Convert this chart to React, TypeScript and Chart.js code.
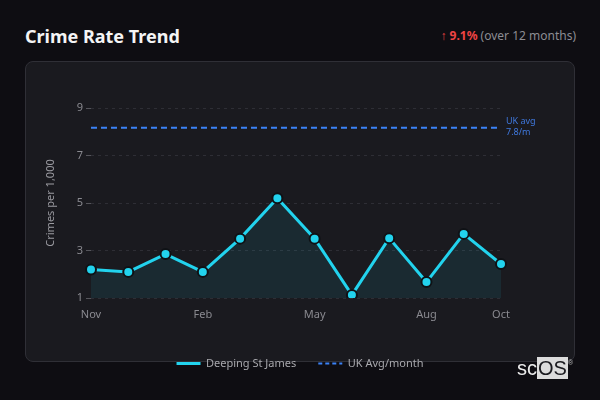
import { useEffect, useRef } from 'react'
import Chart from 'chart.js/auto'

const months = ['Nov', 'Dec', 'Jan', 'Feb', 'Mar', 'Apr', 'May', 'Jun', 'Jul', 'Aug', 'Sep', 'Oct']
const localRates = [2.2, 2.1, 2.85, 2.1, 3.5, 5.2, 3.5, 1.13, 3.52, 1.67, 3.7, 2.43]
const ukAvgLine = [8.17, 8.17, 8.17, 8.17, 8.17, 8.17, 8.17, 8.17, 8.17, 8.17, 8.17, 8.17]
const yTicks = [1, 3, 5, 7, 9]
const shownMonths = ['Nov', 'Feb', 'May', 'Aug', 'Oct']
const ukAvgText = ['UK avg', '7.8/m']

const CYAN = '#22d3ee'
const BLUE = '#3b82f6'
const CARD = '#1a1a1f'

export default function App() {
  const canvasRef = useRef<HTMLCanvasElement>(null)

  useEffect(() => {
    if (!canvasRef.current) return
    Chart.defaults.font.family = "'Noto Sans', sans-serif"

    // label on the right of the dashed UK line
    const ukLabelPlugin = {
      id: 'ukLabel',
      afterDatasetsDraw(chart: any) {
        const { ctx, chartArea } = chart
        const meta = chart.getDatasetMeta(1)
        const last = meta.data[meta.data.length - 1]
        if (!last) return
        ctx.save()
        ctx.fillStyle = '#3f78dd'
        ctx.font = "9px 'Noto Sans', sans-serif"
        ctx.textAlign = 'left'
        ctx.textBaseline = 'middle'
        ctx.fillText(ukAvgText[0], chartArea.right + 5, last.y - 6)
        ctx.fillText(ukAvgText[1], chartArea.right + 5, last.y + 5)
        ctx.restore()
      },
    }

    const chart = new Chart(canvasRef.current, {
      type: 'line',
      data: {
        labels: months,
        datasets: [
          {
            label: 'Deeping St James',
            data: localRates,
            borderColor: CYAN,
            backgroundColor: 'rgba(34,211,238,0.09)',
            borderWidth: 3,
            fill: 'start',
            tension: 0,
            pointRadius: 5,
            pointBackgroundColor: CYAN,
            pointBorderColor: '#0f1216',
            pointBorderWidth: 2,
          },
          {
            label: 'UK Avg/month',
            data: ukAvgLine,
            borderColor: BLUE,
            borderWidth: 2,
            borderDash: [6, 4],
            pointRadius: 0,
            fill: false,
          },
        ],
      },
      options: {
        responsive: false,
        animation: false,
        layout: { padding: { left: 15, right: 15, top: 47, bottom: 2 } },
        plugins: {
          legend: {
            position: 'bottom',
            labels: {
              color: '#a8a8ad',
              font: { size: 11 },
              padding: 22,
              usePointStyle: true,
              pointStyleWidth: 24,
              generateLabels() {
                return [
                  { text: 'Deeping St James', pointStyle: 'line', strokeStyle: CYAN, fillStyle: CYAN, lineWidth: 3, lineDash: [], hidden: false, datasetIndex: 0, fontColor: '#a8a8ad' },
                  { text: 'UK Avg/month', pointStyle: 'line', strokeStyle: BLUE, fillStyle: BLUE, lineWidth: 2, lineDash: [4, 3], hidden: false, datasetIndex: 1, fontColor: '#a8a8ad' },
                ] as any
              },
            },
          },
          tooltip: { enabled: false },
        },
        scales: {
          x: {
            grid: { display: false, drawTicks: false },
            border: { display: false },
            afterFit(scale: any) { scale.height = 38 },
            ticks: {
              color: '#8a8a90',
              font: { size: 11 },
              padding: 10,
              autoSkip: false,
              maxRotation: 0,
              callback(_v: any, i: number) {
                return shownMonths.includes(months[i]) ? months[i] : ''
              },
            },
          },
          y: {
            min: 1,
            max: 9,
            afterFit(scale: any) { scale.width = 51 },
            afterBuildTicks(scale: any) { scale.ticks = yTicks.map(v => ({ value: v })) },
            border: { display: false, dash: [3, 4] },
            grid: {
              color: '#2e2e35',
              tickColor: '#55555b',
              tickBorderDash: [],
              tickLength: 5,
            } as any,
            ticks: { color: '#8a8a90', font: { size: 11 }, padding: 3 },
            title: {
              display: true,
              text: 'Crimes per 1,000',
              color: '#9a9aa0',
              font: { size: 11 },
            },
          },
          // empty spacer on the right so the legend sits centred in the card
          yRight: {
            position: 'right',
            display: true,
            afterFit(scale: any) { scale.width = 59 },
            ticks: { display: false },
            grid: { display: false },
            border: { display: false },
          },
        },
      },
      plugins: [ukLabelPlugin],
    })

    return () => chart.destroy()
  }, [])

  return (
    <div style={{ position: 'fixed', left: 0, top: 0, width: 600, height: 400, background: '#0e0d12', fontFamily: "'Noto Sans', sans-serif", overflow: 'hidden' }}>
      <div style={{ position: 'absolute', left: 25, top: 24, fontSize: 18, fontWeight: 700, color: '#f4f4f5', lineHeight: '24px' }}>
        Crime Rate Trend
      </div>
      <div style={{ position: 'absolute', right: 24, top: 27, fontSize: 12, color: '#8c8c92', lineHeight: '18px' }}>
        <span style={{ color: '#ef4444', marginRight: 3 }}>↑</span>
        <span style={{ color: '#ef4444', fontWeight: 700 }}>9.1%</span> (over 12 months)
      </div>
      <div style={{ position: 'absolute', left: 25, top: 61, width: 548, height: 299, background: CARD, border: '1px solid #2f2f36', borderRadius: 8 }} />
      <canvas ref={canvasRef} width={550} height={320} style={{ position: 'absolute', left: 25, top: 61, width: 550, height: 320 }} />
      <div style={{ position: 'absolute', left: 517, top: 359, fontFamily: "'Liberation Sans', Arial, sans-serif", fontSize: 20, lineHeight: '19px', color: '#ececec', whiteSpace: 'nowrap' }}>
        sc<span style={{ background: '#dcdcdc', color: '#1a1a1f', padding: '0 1px' }}>OS</span>
        <sup style={{ fontSize: 7, color: '#bbb', verticalAlign: 'top', lineHeight: '8px' }}>®</sup>
      </div>
    </div>
  )
}
